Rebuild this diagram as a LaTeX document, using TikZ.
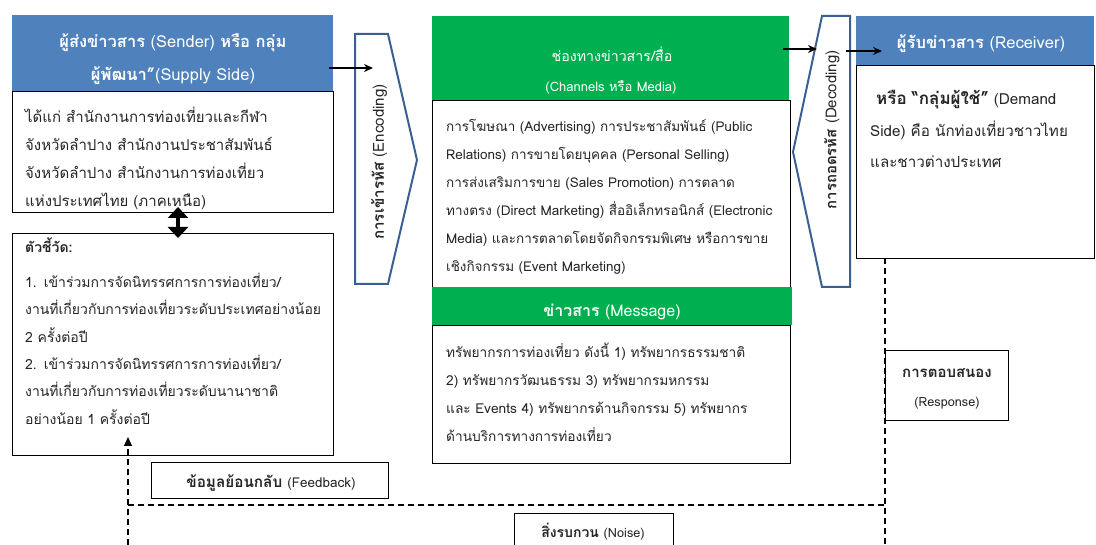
\documentclass[tikz,border=0pt]{standalone}
\usepackage{fontspec}
\setmainfont[Script=Thai]{Loma}
\usetikzlibrary{arrows.meta}

\definecolor{hdrblue}{HTML}{4F81BD}
\definecolor{chgreen}{HTML}{00B050}
\definecolor{codeblue}{HTML}{3B5F93}
\definecolor{bodytext}{HTML}{262626}

\tikzset{
  box/.style={draw=black, line width=1.1pt, fill=white, inner sep=0pt, anchor=north west},
  bluehead/.style={fill=hdrblue, draw=none, inner sep=0pt, anchor=north west},
  greenhead/.style={fill=chgreen, draw=none, inner sep=0pt, anchor=north west},
  headtext/.style={anchor=base, inner sep=0pt, text=white, font=\fontsize{16.5}{18}\selectfont},
  labeltext/.style={anchor=base, inner sep=0pt, text=bodytext},
  bodylines/.style={anchor=base west, inner sep=0pt, text width=#1, align=left,
                    text=bodytext, font=\fontsize{13.5}{28}\selectfont},
  codeshape/.style={draw=codeblue, line width=2pt, fill=white, line join=miter},
  flow/.style={line width=1.6pt, -{Stealth[length=9pt,width=8pt]}},
  dashline/.style={line width=1.1pt, dash pattern=on 6pt off 4pt},
}

\begin{document}
\begin{tikzpicture}[x=1pt,y=-1pt]
\useasboundingbox (0,0) rectangle (1096,545);

% ---------- sender ----------
\node[bluehead, minimum width=321, minimum height=76] (sendhead) at (12,15) {};
\node[headtext] (sendt1) at (173,48) {{\bfseries ผู้ส่งข่าวสาร} (Sender) {\bfseries หรือ กลุ่ม}};
\node[headtext] (sendt2) at (173,81) {{\bfseries ผู้พัฒนา”}(Supply Side)};
\node[box, minimum width=321, minimum height=121] (sendbody) at (12,91) {};
\node[bodylines=310pt, font=\fontsize{15}{28}\selectfont] (sendtext) at (25,123) {ได้แก่ สำนักงานการท่องเที่ยวและกีฬา\\
จังหวัดลำปาง สำนักงานประชาสัมพันธ์\\
จังหวัดลำปาง สำนักงานการท่องเที่ยว\\
แห่งประเทศไทย (ภาคเหนือ)};

% ---------- indicators ----------
\node[box, minimum width=321, minimum height=222] (indic) at (12,233) {};
\node[bodylines=315pt, font=\fontsize{14}{27.4}\selectfont] (indictext) at (25,253) {{\bfseries ตัวชี้วัด:}\\[7pt]
1. เข้าร่วมการจัดนิทรรศการการท่องเที่ยว/\\
งานที่เกี่ยวกับการท่องเที่ยวระดับประเทศอย่างน้อย\\
2 ครั้งต่อปี\\
2. เข้าร่วมการจัดนิทรรศการการท่องเที่ยว/\\
งานที่เกี่ยวกับการท่องเที่ยวระดับนานาชาติ\\
อย่างน้อย 1 ครั้งต่อปี};

\coordinate (dbl top) at (178,207);
\coordinate (dbl bot) at (178,238);
\draw[line width=3.5pt, {Triangle[width=20pt,length=11pt]}-{Triangle[width=20pt,length=11pt]}]
  (dbl top) -- (dbl bot);

% ---------- encoding ----------
\draw[codeshape] (355,34) -- (388,34) -- (417,160) -- (388,284) -- (355,284) -- cycle;
\node[rotate=90, inner sep=0pt, font=\fontsize{15.2}{17}\selectfont, text=bodytext] (enctext) at (379,162)
  {{\bfseries การเข้ารหัส} (Encoding)};

% ---------- channels ----------
\node[greenhead, minimum width=357, minimum height=84] (chanhead) at (432,16) {};
\node[headtext, font=\fontsize{14.2}{16}\selectfont] (chant1) at (612,62) {ช่องทางข่าวสาร/สื่อ};
\node[headtext, font=\fontsize{13}{15}\selectfont] (chant2) at (611,92) {(Channels หรือ Media)};
\node[box, minimum width=358, minimum height=187] (chanbody) at (432,100) {};
\node[bodylines=355pt] (chantext) at (446,132) {การโฆษณา (Advertising) การประชาสัมพันธ์ (Public\\
Relations) การขายโดยบุคคล (Personal Selling)\\
การส่งเสริมการขาย (Sales Promotion) การตลาด\\
ทางตรง (Direct Marketing) สื่ออิเล็กทรอนิกส์ (Electronic\\
Media) และการตลาดโดยจัดกิจกรรมพิเศษ หรือการขาย\\
เชิงกิจกรรม (Event Marketing)};

% ---------- message ----------
\node[greenhead, minimum width=360, minimum height=38] (msghead) at (432,287) {};
\node[headtext, font=\fontsize{16}{18}\selectfont] (msgt) at (612,317) {{\bfseries ข่าวสาร} (Message)};
\node[box, minimum width=358, minimum height=138] (msgbody) at (432,325) {};
\node[bodylines=355pt, font=\fontsize{13.7}{28}\selectfont] (msgtext) at (446,358) {ทรัพยากรการท่องเที่ยว ดังนี้ 1) ทรัพยากรธรรมชาติ\\
2) ทรัพยากรวัฒนธรรม 3) ทรัพยากรมหกรรม\\
และ Events 4) ทรัพยากรด้านกิจกรรม 5) ทรัพยากร\\
ด้านบริการทางการท่องเที่ยว};

% ---------- decoding ----------
\draw[codeshape] (822,16) -- (850,16) -- (850,287) -- (822,287) -- (793,152) -- cycle;
\node[rotate=90, inner sep=0pt, font=\fontsize{15}{17}\selectfont, text=bodytext] (dectext) at (832,130)
  {{\bfseries การถอดรหัส} (Decoding)};

% ---------- receiver ----------
\node[bluehead, minimum width=238, minimum height=49] (recvhead) at (856,16) {};
\node[headtext] (recvt) at (981,49) {{\bfseries ผู้รับข่าวสาร} (Receiver)};
\node[box, minimum width=238, minimum height=193] (recvbody) at (856,65) {};
\node[bodylines=230pt, font=\fontsize{15.2}{31.5}\selectfont] (recvtext) at (870,105) {\hspace*{6pt}{\fontsize{17}{20}\selectfont\bfseries หรือ “กลุ่มผู้ใช้”} (Demand\\
Side) คือ นักท่องเที่ยวชาวไทย\\
และชาวต่างประเทศ};

% ---------- response, feedback, noise ----------
\coordinate (rline top) at (885,258);
\coordinate (rline bot) at (885,545);
\coordinate (fb bot) at (128,545);
\coordinate (fb tip) at (128,437);
\coordinate (noise left) at (128,505);
\coordinate (noise right) at (885,505);

\draw[dashline] (rline top) -- (rline bot);
\draw[dashline] (noise left) -- (noise right);
\draw[dashline, -{Triangle[width=8pt,length=9pt]}] (fb bot) -- (fb tip);

\node[box, minimum width=123, minimum height=70] (resp) at (885,350) {};
\node[labeltext, font=\fontsize{15}{17}\selectfont\bfseries] (respt1) at (947,378) {การตอบสนอง};
\node[labeltext, font=\fontsize{12.7}{14}\selectfont] (respt2) at (947,407) {(Response)};

\node[box, minimum width=237, minimum height=36] (feedback) at (151,462) {};
\node[labeltext, font=\fontsize{15.3}{17}\selectfont] (fbt) at (271,487)
  {{\bfseries ข้อมูลย้อนกลับ} {\fontsize{13.5}{15}\selectfont(Feedback)}};

\node[box, minimum width=159, minimum height=50] (noise) at (514,513) {};
\node[labeltext, font=\fontsize{14}{16}\selectfont] (noiset) at (593,537)
  {{\bfseries สิ่งรบกวน} {\fontsize{12.7}{14}\selectfont(Noise)}};

% ---------- flow arrows ----------
\coordinate (a1s) at (329,68);
\coordinate (a1e) at (373,68);
\coordinate (a2s) at (783,49);
\coordinate (a2e) at (817,49);
\coordinate (a3s) at (846,51);
\coordinate (a3e) at (882,51);
\draw[flow] (a1s) -- (a1e);
\draw[flow, line width=1.4pt] (a2s) -- (a2e);
\draw[flow, line width=1.4pt] (a3s) -- (a3e);
\end{tikzpicture}
\end{document}
